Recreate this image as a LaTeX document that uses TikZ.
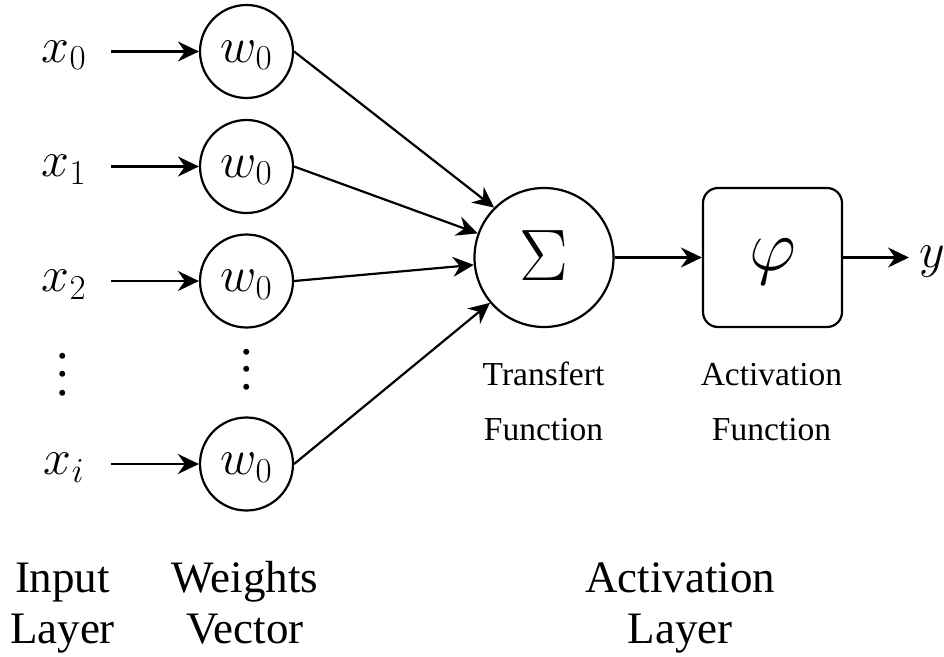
\RequirePackage{fix-cm}
\documentclass[tikz,border=0pt]{standalone}
\usepackage[no-math]{fontspec}
\setmainfont{Liberation Serif}
\usetikzlibrary{arrows.meta}
\newcommand\mathsz{\fontsize{50}{52}\selectfont}
\newcommand\bigsz{\fontsize{73}{75}\selectfont}
\newcommand\lblsz{\fontsize{33.5}{55}\selectfont}
\newcommand\botsz{\fontsize{45}{51}\selectfont}
\begin{document}
\begin{tikzpicture}[x=1pt,y=-1pt,line width=2.2pt,
  arr/.style={-{Stealth[length=21pt,width=20pt,inset=7pt]},line width=2.2pt},
  xlab/.style={anchor=base,inner sep=0pt,minimum width=92pt,font=\mathsz},
  wnode/.style={circle,draw,minimum size=93pt,inner sep=0pt,font=\mathsz,text height=29pt,text depth=7.5pt},
  dotsnode/.style={inner sep=0pt,font=\mathsz},
  lbl/.style={anchor=base,align=center,inner sep=0pt,font=\lblsz},
  botlbl/.style={anchor=base,align=center,inner sep=0pt,font=\botsz}]
\useasboundingbox (0,0) rectangle (944,656);
% inputs
\node[xlab] (x0) at (64,62) {$x_0$};
\node[xlab] (x1) at (64,176.5) {$x_1$};
\node[xlab] (x2) at (64,291.5) {$x_2$};
\node[xlab] (xi) at (64,474.5) {$x_i$};
\node[dotsnode] (xd) at (63,374.5) {\vbox{\baselineskip18.5pt\hbox{.}\hbox{.}\hbox{.}}};
% weights
\node[wnode] (w0) at (246.5,51.5) {$w_0$};
\node[wnode] (w1) at (246.5,166.5) {$w_0$};
\node[wnode] (w2) at (246.5,281) {$w_0$};
\node[wnode] (wi) at (246.5,464) {$w_0$};
\node[dotsnode] (wd) at (247,369.5) {\vbox{\baselineskip17.5pt\hbox{.}\hbox{.}\hbox{.}}};
% sum and activation
\node[circle,draw,minimum size=139pt,inner sep=0pt,font=\bigsz,text height=50pt,text depth=5pt] (sig) at (544,257.5) {$\Sigma$};
\node[rectangle,draw,rounded corners=15pt,minimum size=139pt,inner sep=0pt,font=\bigsz,text height=31pt,text depth=5pt] (phi) at (772.5,257.5) {$\varphi$};
\node[anchor=base west,inner xsep=9pt,inner ysep=0pt,font=\mathsz] (y) at (909,267.5) {$y$};
% connectors
\draw[arr] (w0.west -| x0.east) -- (w0.west);
\draw[arr] (w1.west -| x1.east) -- (w1.west);
\draw[arr] (w2.west -| x2.east) -- (w2.west);
\draw[arr] (wi.west -| xi.east) -- (wi.west);
\draw[arr] (w0.east) -- (sig.135);
\draw[arr] (w1.east) -- (sig.160.5);
\draw[arr] (w2.east) -- (sig.186);
\draw[arr] (wi.east) -- (sig.220);
\draw[arr] (sig.east) -- (phi.west);
\draw[arr] (phi.east) -- (y.west |- phi.east);
% labels (base anchor is the last line's baseline)
\node[lbl] (tf) at (543.5,440) {Transfert\\Function};
\node[lbl] (af) at (771.5,440) {Activation\\Function};
\node[botlbl] (il) at (62.5,643) {Input\\Layer};
\node[botlbl] (wv) at (245,643) {Weights\\Vector};
\node[botlbl] (al) at (680,643) {Activation\\Layer};
\end{tikzpicture}
\end{document}
